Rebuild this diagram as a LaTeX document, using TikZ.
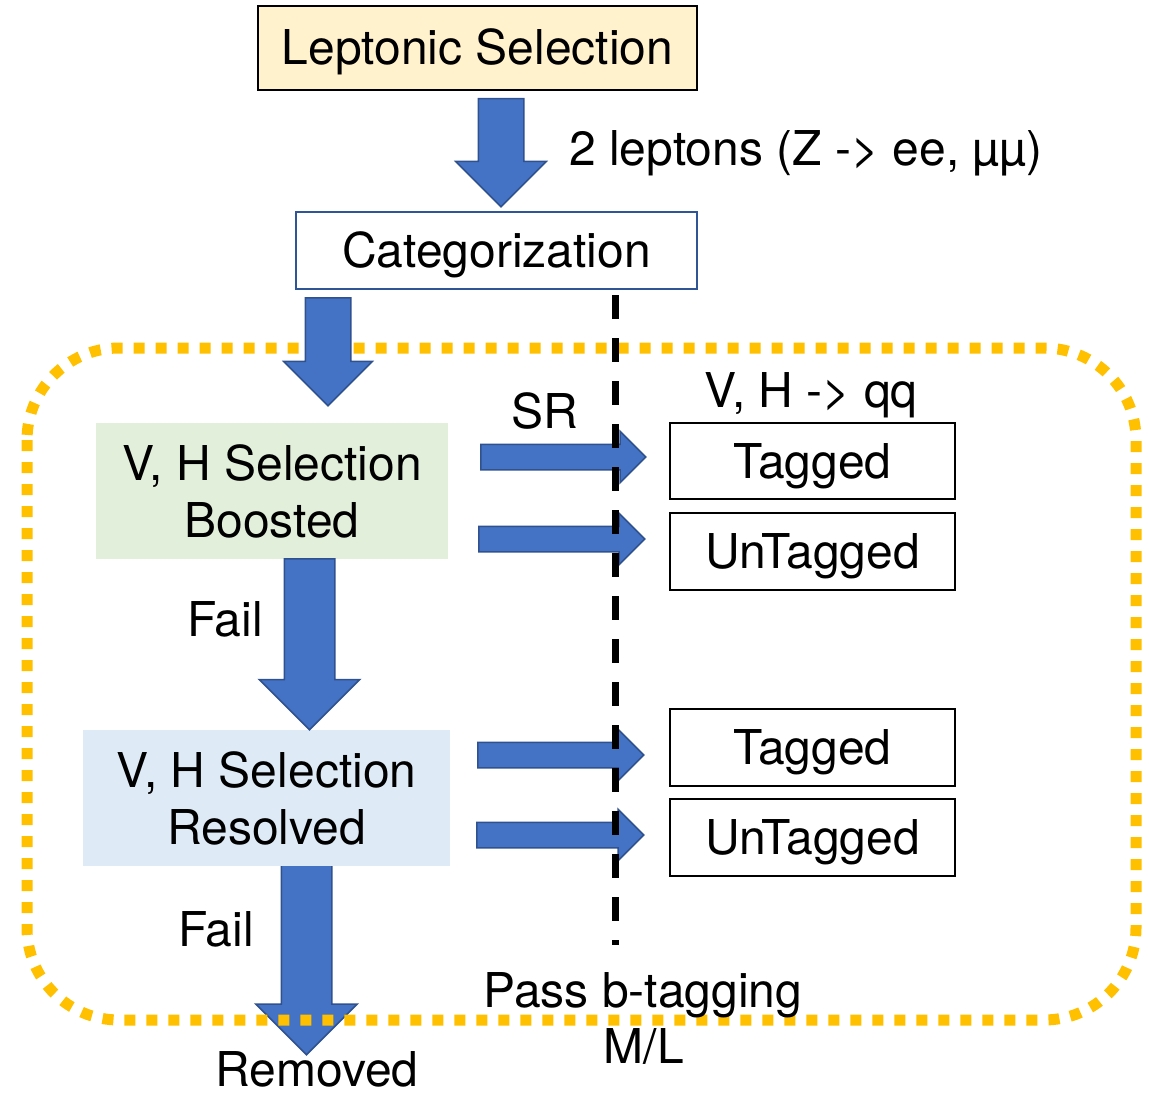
\documentclass[tikz,border=0pt]{standalone}
\usepackage{fontspec}
\setmainfont{TeX Gyre Heros}
\usetikzlibrary{shapes.arrows}

\definecolor{arrowblue}{HTML}{4472C4}
\definecolor{arrowedge}{HTML}{2F528F}
\definecolor{dotyellow}{HTML}{FFC000}
\definecolor{lepyellow}{HTML}{FFF2CC}
\definecolor{catblue}{HTML}{2F5597}
\definecolor{boostgreen}{HTML}{E2EFDA}
\definecolor{resolvblue}{HTML}{DEEBF7}

\tikzset{
  blockarrow/.style={single arrow, fill=arrowblue, draw=arrowedge, line width=1.5pt,
    inner xsep=0pt, single arrow tip angle=90, anchor=tail},
  catbox/.style={rectangle, inner sep=0pt, text height=34pt, text depth=0pt},
  selbox/.style={rectangle, inner sep=0pt, align=center},
  label/.style={inner sep=0pt, anchor=base},
}

\begin{document}
\begin{tikzpicture}[x=1pt,y=-1pt,every node/.style={font=\fontsize{48}{57}\selectfont}]
  \useasboundingbox (0,0) rectangle (1149,1094);
  % last Fail arrow lies under the dotted frame
  \node[blockarrow, rotate=-90, inner ysep=24.5pt, minimum height=197pt, minimum width=100pt, single arrow head extend=25.5pt] (failres) at (306.5,857) {};
  \draw[dotyellow, line width=11pt, dash pattern=on 11pt off 11pt, rounded corners=92pt] (27,348) rectangle (1136,1020);

  \node[catbox, fill=lepyellow, draw=black, line width=2pt, minimum width=439pt, minimum height=84pt] (lep) at (477.5,48) {Leptonic Selection};
  \node[blockarrow, rotate=-90, inner ysep=22pt, minimum height=108pt, minimum width=89pt, single arrow head extend=22.5pt] (leparrow) at (501,98) {};
  \node[label, anchor=base west] (twolep) at (569,166) {2 leptons (Z -> ee, µµ)};

  \node[catbox, draw=catblue, line width=1.5pt, minimum width=401pt, minimum height=77pt] (cat) at (496.5,250.5) {Categorization};
  \node[blockarrow, rotate=-90, inner ysep=22pt, minimum height=108pt, minimum width=87pt, single arrow head extend=21.5pt] (catarrow) at (328,297) {};

  \node[selbox, fill=boostgreen, minimum width=352pt, minimum height=136pt] (boost) at (272,491) {V, H Selection\\Boosted};
  \node[selbox, fill=resolvblue, minimum width=367pt, minimum height=136pt] (resolv) at (266.5,798) {V, H Selection\\Resolved};
  \node[blockarrow, rotate=-90, inner ysep=24.5pt, minimum height=171pt, minimum width=99pt, single arrow head extend=25pt] (failboost) at (309.5,558) {};
  \node[label] (fail1) at (225,636) {Fail};
  \node[label] (fail2) at (216,946) {Fail};
  \node[label] (removed) at (317,1086) {Removed};

  % output categories
  \node[label] (vhqq) at (811,407) {V, H -> qq};
  \node[label] (sr) at (545,428) {SR};
  \node[catbox, draw=black, line width=2pt, minimum width=285pt, minimum height=76pt] (tag1) at (812.5,461) {Tagged};
  \node[catbox, draw=black, line width=2pt, minimum width=285pt, minimum height=77pt] (untag1) at (812.5,551.5) {UnTagged};
  \node[catbox, draw=black, line width=2pt, minimum width=285pt, minimum height=77pt] (tag2) at (812.5,747.5) {Tagged};
  \node[catbox, draw=black, line width=2pt, minimum width=285pt, minimum height=77pt] (untag2) at (812.5,837.5) {UnTagged};

  \node[blockarrow, inner ysep=12pt, minimum height=165pt, minimum width=50pt, single arrow head extend=13pt] (arrtag1) at (480,457) {};
  \node[blockarrow, inner ysep=12pt, minimum height=166pt, minimum width=50pt, single arrow head extend=13pt] (arruntag1) at (478,539) {};
  \node[blockarrow, inner ysep=12pt, minimum height=166pt, minimum width=50pt, single arrow head extend=13pt] (arrtag2) at (477,755) {};
  \node[blockarrow, inner ysep=12pt, minimum height=167pt, minimum width=50pt, single arrow head extend=13pt] (arruntag2) at (476,835) {};

  % b-tagging cut
  \coordinate (cuttop) at (615,295);
  \coordinate (cutbot) at (615,945);
  \draw[black, line width=7pt, dash pattern=on 24pt off 19pt] (cuttop) -- (cutbot);
  \node[label] (pass) at (643,1007) {Pass b-tagging};
  \node[label] (ml) at (644,1063) {M/L};
\end{tikzpicture}
\end{document}
